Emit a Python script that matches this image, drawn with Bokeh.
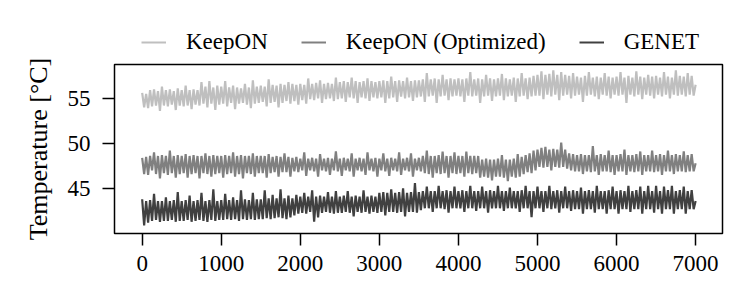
from bokeh.plotting import figure
from bokeh.layouts import column
from bokeh.models import Range1d, Legend, LegendItem, FixedTicker
from bokeh.embed import file_html
from bokeh.resources import INLINE

# ---- data (one reading every 25 s) ----
TIMES = list(range(0, 7001, 25))

KEEPON = [
    55.6, 54.0, 55.5, 53.9, 55.9, 54.1, 56.0, 54.2, 55.8, 53.6, 56.3, 54.2, 55.9, 54.1, 56.0, 54.3, 55.8, 53.7, 56.1, 54.2,
    55.9, 54.1, 56.4, 54.2, 55.9, 53.8, 56.0, 54.3, 55.9, 54.2, 56.8, 54.4, 56.3, 54.0, 56.9, 54.4, 56.2, 53.7, 56.4, 54.3,
    56.3, 54.4, 56.9, 54.1, 56.2, 54.5, 56.4, 53.8, 56.2, 54.4, 56.1, 54.5, 56.6, 54.3, 56.2, 53.9, 57.0, 54.4, 56.3, 54.5,
    56.4, 54.6, 56.3, 54.1, 57.1, 54.5, 56.5, 54.6, 56.4, 54.0, 56.6, 54.5, 56.5, 54.7, 56.8, 54.4, 56.6, 54.7, 56.5, 54.3,
    56.6, 54.8, 56.5, 54.4, 57.2, 54.9, 56.6, 54.8, 56.7, 55.0, 57.0, 54.5, 56.6, 54.9, 56.7, 55.0, 56.6, 54.7, 57.3, 54.9,
    56.8, 55.0, 56.9, 54.6, 56.8, 55.1, 57.3, 55.0, 56.9, 54.5, 56.8, 55.1, 56.9, 55.0, 57.2, 54.7, 56.9, 55.1, 56.8, 55.0,
    56.9, 55.1, 57.0, 54.5, 56.9, 55.0, 57.4, 55.1, 56.9, 54.6, 57.0, 55.2, 56.9, 55.0, 57.3, 55.1, 56.9, 54.7, 57.0, 55.1,
    57.0, 55.2, 57.1, 54.6, 57.8, 55.2, 57.1, 55.3, 57.2, 54.5, 57.1, 55.2, 57.6, 55.3, 57.1, 54.8, 57.2, 55.2, 57.1, 55.3,
    57.2, 55.2, 57.1, 54.6, 57.2, 55.3, 57.9, 55.2, 57.1, 55.3, 57.2, 54.5, 57.1, 55.2, 57.6, 55.3, 57.2, 54.7, 57.1, 55.2,
    57.2, 55.3, 57.7, 54.8, 57.2, 55.2, 57.1, 55.3, 57.3, 54.6, 57.2, 55.2, 57.8, 55.3, 57.2, 54.9, 57.3, 55.2, 57.5, 55.3,
    57.6, 55.3, 58.0, 54.9, 57.6, 55.4, 57.7, 55.2, 58.1, 55.4, 57.6, 54.8, 57.9, 55.3, 57.6, 55.4, 57.5, 55.0, 57.8, 55.3,
    57.4, 55.4, 57.3, 54.6, 57.5, 55.3, 57.9, 55.4, 57.3, 55.2, 57.4, 54.9, 57.3, 55.4, 57.8, 55.3, 57.4, 55.0, 57.3, 55.4,
    57.4, 55.3, 57.9, 55.4, 57.3, 54.5, 57.5, 55.4, 57.3, 55.2, 58.0, 55.4, 57.4, 54.9, 57.3, 55.4, 57.6, 55.3, 57.4, 55.0,
    57.5, 55.4, 57.3, 55.2, 57.9, 55.4, 57.4, 55.0, 57.3, 55.4, 58.1, 55.3, 57.5, 55.4, 57.4, 55.2, 57.8, 55.4, 57.5, 55.3,
    56.5,
]

KEEPON_OPT = [
    48.4, 46.6, 48.5, 46.5, 48.6, 47.0, 49.0, 46.6, 48.6, 46.1, 48.7, 46.7, 48.6, 46.5, 49.2, 46.7, 48.6, 46.2, 48.7, 46.6,
    48.6, 46.7, 48.8, 46.2, 48.6, 46.6, 48.7, 46.7, 48.6, 46.1, 48.6, 46.7, 48.9, 46.6, 48.6, 46.3, 48.7, 46.6, 48.6, 46.7,
    48.6, 46.2, 48.7, 46.6, 48.6, 46.7, 49.0, 46.3, 48.6, 46.6, 48.7, 46.1, 48.6, 46.7, 48.6, 46.6, 48.9, 46.3, 48.6, 46.7,
    48.6, 46.7, 48.6, 46.2, 48.8, 46.7, 48.5, 46.8, 48.6, 46.3, 48.5, 46.8, 48.9, 46.8, 48.5, 46.3, 48.4, 46.9, 48.5, 46.8,
    48.3, 47.0, 49.0, 46.4, 48.3, 47.0, 48.4, 46.9, 48.3, 46.3, 48.8, 47.0, 48.3, 46.9, 48.4, 46.5, 48.3, 47.0, 49.1, 46.9,
    48.3, 46.4, 48.4, 47.0, 48.3, 46.9, 48.9, 46.3, 48.3, 47.0, 48.4, 46.9, 48.3, 46.5, 49.0, 47.0, 48.3, 46.9, 48.4, 46.3,
    48.3, 47.0, 48.9, 46.9, 48.3, 46.4, 48.4, 47.0, 48.3, 46.9, 49.0, 46.5, 48.3, 47.0, 48.4, 46.9, 48.9, 46.3, 48.3, 47.0,
    48.4, 46.9, 48.6, 46.7, 49.2, 46.6, 48.6, 46.2, 48.6, 46.7, 48.7, 46.6, 49.1, 46.7, 48.6, 46.2, 48.6, 46.7, 49.0, 46.6,
    48.6, 46.7, 48.6, 46.3, 49.1, 46.7, 48.6, 46.6, 48.6, 46.7, 48.6, 46.2, 48.2, 46.3, 48.3, 46.2, 48.2, 45.9, 48.2, 46.3,
    48.3, 46.3, 48.7, 46.2, 48.2, 45.8, 48.2, 46.3, 48.3, 46.2, 48.8, 46.3, 48.5, 46.6, 48.7, 46.8, 48.9, 46.7, 49.2, 47.0,
    49.3, 47.4, 49.5, 47.3, 49.6, 47.4, 49.3, 47.0, 49.4, 47.4, 49.3, 47.3, 50.1, 47.4, 49.3, 47.2, 48.9, 47.0, 48.8, 46.9,
    48.7, 46.9, 48.8, 46.6, 48.7, 46.9, 48.7, 46.8, 49.7, 46.9, 48.7, 46.5, 48.8, 46.9, 48.7, 46.9, 49.2, 46.8, 48.7, 46.5,
    48.7, 46.9, 48.8, 46.9, 49.3, 46.5, 48.7, 46.9, 48.7, 46.8, 48.8, 46.9, 49.1, 46.5, 48.7, 46.9, 48.7, 46.9, 49.2, 46.8,
    48.7, 46.9, 48.8, 46.5, 48.7, 46.9, 49.2, 46.9, 48.7, 46.6, 48.8, 46.9, 48.7, 46.9, 49.1, 46.8, 48.7, 46.9, 48.8, 46.9,
    47.8,
]

GENET = [
    43.8, 40.9, 43.6, 41.2, 43.7, 41.4, 44.4, 41.5, 43.6, 41.3, 43.6, 41.4, 44.0, 41.4, 43.6, 41.5, 43.7, 41.3, 44.6, 41.4,
    43.6, 41.4, 43.7, 41.5, 44.2, 41.3, 43.6, 41.4, 43.7, 41.5, 44.5, 41.4, 43.6, 41.3, 43.7, 41.5, 44.9, 41.4, 43.6, 41.5,
    43.7, 41.5, 44.4, 41.6, 43.7, 41.5, 44.0, 41.6, 43.7, 41.4, 44.8, 41.6, 43.8, 41.5, 43.7, 41.6, 44.5, 41.5, 43.8, 41.6,
    43.8, 41.6, 44.8, 41.7, 43.9, 41.6, 44.3, 41.7, 43.9, 41.8, 44.9, 41.7, 43.9, 41.6, 44.2, 41.8, 43.9, 42.0, 44.3, 42.2,
    44.1, 42.3, 44.5, 42.2, 44.1, 42.4, 44.8, 41.3, 44.1, 41.8, 44.2, 42.3, 44.1, 42.4, 44.6, 42.3, 44.1, 42.2, 44.7, 42.3,
    44.1, 42.3, 44.2, 42.4, 44.7, 42.3, 44.1, 41.9, 44.2, 42.4, 44.1, 42.3, 44.8, 42.4, 44.1, 42.2, 44.2, 42.4, 44.1, 42.3,
    44.5, 42.4, 44.6, 42.0, 44.5, 42.4, 44.9, 42.4, 44.5, 42.3, 44.6, 42.4, 45.0, 41.9, 44.5, 42.4, 44.6, 42.4, 45.6, 42.3,
    44.6, 42.6, 44.7, 42.8, 45.2, 42.8, 44.7, 42.4, 44.7, 42.8, 45.3, 42.8, 44.7, 42.7, 44.8, 42.3, 44.7, 42.8, 45.2, 42.8,
    44.7, 42.8, 44.8, 42.4, 44.7, 42.8, 45.3, 42.8, 44.7, 42.5, 44.7, 42.8, 45.2, 42.8, 44.7, 42.3, 44.8, 42.8, 44.7, 42.8,
    45.3, 42.8, 44.7, 42.5, 44.7, 42.8, 45.1, 42.8, 44.7, 42.8, 44.7, 42.4, 44.8, 42.8, 45.3, 42.8, 44.7, 41.8, 44.7, 42.8,
    45.2, 42.8, 44.7, 42.4, 44.7, 42.8, 45.3, 42.7, 44.7, 42.8, 44.8, 42.3, 44.7, 42.8, 45.2, 42.8, 44.7, 42.5, 44.8, 42.7,
    44.7, 42.7, 45.1, 42.2, 44.7, 42.7, 44.8, 42.7, 44.7, 42.3, 45.3, 42.7, 44.7, 42.7, 44.7, 42.2, 44.8, 42.7, 45.2, 42.7,
    44.7, 42.2, 44.8, 42.7, 44.7, 42.7, 45.3, 42.4, 44.7, 42.7, 44.8, 42.7, 45.2, 42.2, 44.7, 42.7, 45.3, 42.7, 44.7, 42.3,
    45.3, 42.7, 44.7, 42.2, 45.2, 42.7, 44.8, 42.7, 45.3, 42.2, 44.7, 42.7, 44.8, 42.7, 45.2, 42.2, 44.7, 42.7, 44.8, 42.7,
    43.6,
]

SERIES_NAMES = ["KeepON", "KeepON (Optimized)", "GENET"]
SERIES_COLORS = ["#bfbfbf", "#808080", "#404040"]
X_TICKS = [0, 1000, 2000, 3000, 4000, 5000, 6000, 7000]
Y_TICKS = [45, 50, 55]
ALL_SERIES = [KEEPON, KEEPON_OPT, GENET]

FONT = "Liberation Serif"
LINE_W = 2.2

# ---- legend strip (own small figure above the plot) ----
leg = figure(width=748, height=56, output_backend="svg", toolbar_location=None,
             x_range=Range1d(0, 1), y_range=Range1d(0, 1),
             x_axis_location=None, y_axis_location=None,
             min_border_left=114, min_border_right=26, min_border_top=0, min_border_bottom=0)
leg.outline_line_color = None
leg.xgrid.visible = False
leg.ygrid.visible = False
# same series, but outside this strip's ranges: only their legend glyphs show
leg_renderers = [leg.line(TIMES, vals, line_color=c, line_width=2)
                 for vals, c in zip(ALL_SERIES, SERIES_COLORS)]
legend = Legend(items=[LegendItem(label=n, renderers=[r]) for n, r in zip(SERIES_NAMES, leg_renderers)],
                orientation="horizontal", location=(27, 1),
                label_text_font=FONT, label_text_font_size="23px", label_text_color="black",
                glyph_width=25, glyph_height=20, label_standoff=20, spacing=33,
                padding=0, margin=0, border_line_color=None, background_fill_alpha=0)
leg.add_layout(legend, "center")

# ---- main plot ----
p = figure(width=748, height=249, output_backend="svg", toolbar_location=None,
           x_range=Range1d(-350, 7340), y_range=Range1d(40.0, 58.75),
           min_border_left=114, min_border_right=26, min_border_top=8, min_border_bottom=72)

for vals, color in zip(ALL_SERIES, SERIES_COLORS):
    p.line(TIMES, vals, line_color=color, line_width=LINE_W)

p.xgrid.visible = False
p.ygrid.visible = False
p.outline_line_color = "black"
p.outline_line_width = 1.5
p.outline_line_alpha = 1.0

for ax in (p.xaxis[0], p.yaxis[0]):
    ax.axis_line_color = None
    ax.major_tick_in = 0
    ax.major_tick_out = 12
    ax.major_tick_line_width = 1.5
    ax.major_tick_line_color = "black"
    ax.minor_tick_line_color = None
    ax.major_label_text_font = FONT
    ax.major_label_text_font_size = "23px"
    ax.major_label_text_color = "black"

p.xaxis[0].ticker = FixedTicker(ticks=X_TICKS)
p.yaxis[0].ticker = FixedTicker(ticks=Y_TICKS)
p.xaxis[0].major_label_standoff = 10
p.yaxis[0].major_label_standoff = 12

p.yaxis[0].axis_label = "Temperature [°C]"
p.yaxis[0].axis_label_text_font = FONT
p.yaxis[0].axis_label_text_font_size = "26px"
p.yaxis[0].axis_label_text_font_style = "normal"
p.yaxis[0].axis_label_text_color = "black"
p.yaxis[0].axis_label_standoff = 12

layout = column(leg, p, spacing=0)
open("out.html", "w").write(file_html(layout, INLINE))
